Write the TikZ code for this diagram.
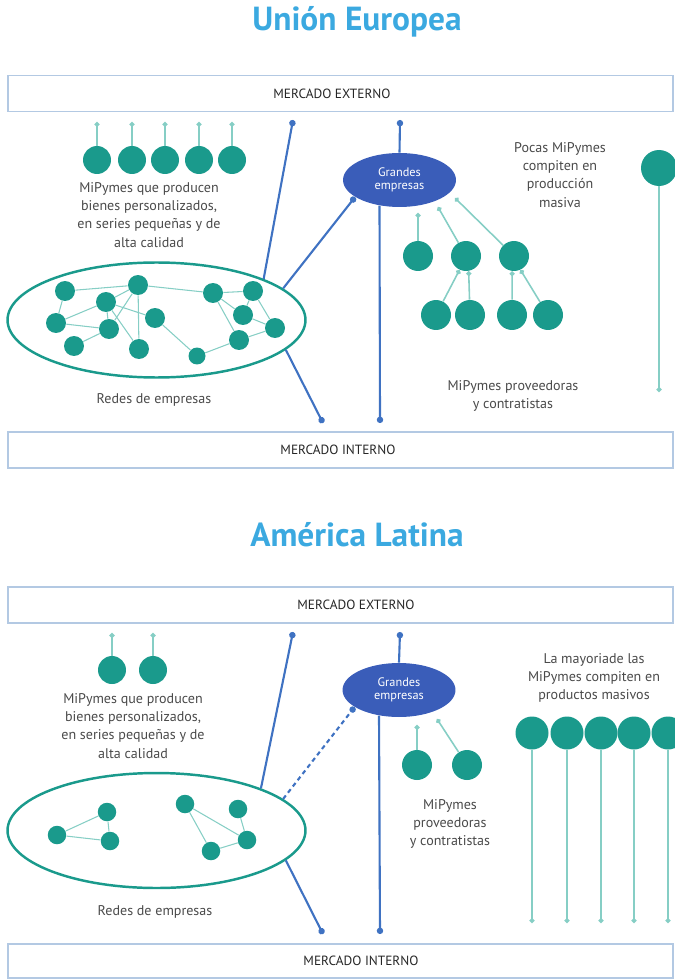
\documentclass[tikz,border=0pt]{standalone}
\usepackage{fontspec}
\setmainfont{PT Sans}
\usetikzlibrary{positioning,shapes.geometric,arrows.meta}

\definecolor{headblue}{HTML}{3BA9E0}
\definecolor{pymeteal}{HTML}{1A9A8C}
\definecolor{feedteal}{HTML}{86CEC5}
\definecolor{linkblue}{HTML}{3F72C2}
\definecolor{bigblue}{HTML}{3A5DB9}
\definecolor{boxblue}{HTML}{B3C9E3}
\definecolor{textgray}{HTML}{4A4A4A}

\begin{document}
\begin{tikzpicture}
% Style
[
    x=.02cm, y=-.02cm, font=\fontsize{8}{10.3}\selectfont, text=textgray,
    headline/.style={font=\fontsize{19}{22}\bfseries, text=headblue},
    mercado/.style={draw=boxblue, line width=1.1pt, shape=rectangle,
        minimum width=13.3cm, minimum height=#1, inner sep=0pt},
    mercado/.default=.72cm,
    boxlabel/.style={font=\fontsize{7.6}{8}\selectfont, text=black!85},
    note/.style={align=center},
    pyme/.style={circle, fill=pymeteal, inner sep=0pt, minimum size=#1},
    pyme/.default=.56cm,
    red/.style={circle, fill=pymeteal, inner sep=0pt, minimum size=#1},
    red/.default=.4cm,
    redes/.style={draw=pymeteal, line width=1.4pt, shape=ellipse,
        minimum width=5.96cm, minimum height=2.3cm, inner sep=0pt},
    grandes/.style={fill=bigblue, shape=ellipse, align=center, text=white,
        minimum width=2.26cm, minimum height=1.08cm, inner sep=0pt,
        font=\fontsize{7}{7.6}\selectfont},
    link/.style={draw=linkblue, line width=1.2pt, -{Circle[length=3.6pt]}},
    feed/.style={draw=feedteal, line width=.9pt, -{Circle[length=2.8pt]}},
    tie/.style={draw=feedteal, line width=.6pt}
]
\useasboundingbox (0,0) rectangle (674,979);

%=================================== Union Europea ===================================
{
    \node[headline] (title-eu) at (357,22) {Unión Europea};
    \node[mercado, label={[boxlabel, xshift=-.17cm]center:MERCADO EXTERNO}] (ext-eu) at (340.5,93.5) {};
    \node[mercado, label={[boxlabel, xshift=-.05cm]center:MERCADO INTERNO}] (int-eu) at (340.5,450) {};

    % custom producers
    \foreach \x[count=\i] in {97,132,165,199,232} {
        \node[pyme] (custom-eu-\i) at (\x,160) {};
        \coordinate (custom-eu-\i-out) at (\x,122);
        \draw[feed] (custom-eu-\i) -- (custom-eu-\i-out);
    }
    \node[note] (txt-custom-eu) at (149,215) {MiPymes que producen\\bienes personalizados,\\en series pequeñas y de\\alta calidad};

    % network
    \node[redes] (redes-eu) at (156.5,320) {};
    \foreach \n/\x/\y in {1/65/291, 2/106/302, 3/138/285, 4/56/323, 5/109/329, 6/155/318, 7/74/346,
        8/139/349, 10/213/293, 11/253/291, 12/243/315, 13/275/328, 14/239/340} {
        \node[red] (net-eu-\n) at (\x,\y) {};
    }
    \node[red=.34cm] (net-eu-9) at (197,356) {};
    \foreach \a/\b in {1/3, 1/4, 2/4, 4/5, 2/3, 2/5, 2/6, 3/5, 3/8, 2/8, 5/7, 6/9, 9/14, 3/10,
        10/11, 10/12, 10/14, 11/12, 11/13, 12/13, 13/14} {
        \draw[tie] (net-eu-\a) -- (net-eu-\b);
    }
    \node[note] (txt-redes-eu) at (154,400) {Redes de empresas};

    % large firms
    \node[grandes] (big-eu) at (399.5,180) {Grandes\\empresas};
    \coordinate (ext-eu-1) at (293,120);
    \coordinate (ext-eu-2) at (400,120);
    \coordinate (int-eu-1) at (323,423);
    \coordinate (int-eu-2) at (380,423);
    \draw[link] (redes-eu.21) -- (ext-eu-1);
    \draw[link] (redes-eu.14) -- (big-eu.201);
    \draw[link] (redes-eu.-13) -- (int-eu-1);
    \draw[link] (big-eu.north) -- (ext-eu-2);
    \draw[link] (big-eu.232) -- (int-eu-2);

    % suppliers
    \foreach \x/\ox/\oy[count=\i] in {418/418/213, 466/438/207, 514/455/198} {
        \node[pyme=.6cm] (tier1-eu-\i) at (\x,256) {};
        \coordinate (big-eu-\i) at (\ox,\oy);
        \draw[feed] (tier1-eu-\i) -- (big-eu-\i);
    }
    \foreach \x/\t/\ang[count=\i] in {436/2/245, 470/2/280, 512/3/263, 548/3/295} {
        \node[pyme=.6cm] (tier2-eu-\i) at (\x,315) {};
        \draw[feed] (tier2-eu-\i) -- (tier1-eu-\t.\ang);
    }
    \node[note] (txt-prov-eu) at (513,396) {MiPymes proveedoras\\y contratistas};

    % mass production
    \node[note] (txt-mass-eu) at (560,175) {Pocas MiPymes\\compiten en\\producción\\masiva};
    \node[pyme=.72cm] (mass-eu) at (659,168) {};
    \coordinate (mass-eu-out) at (659,392);
    \draw[feed] (mass-eu) -- (mass-eu-out);
}

%=================================== America Latina ===================================
{
    \node[headline] (title-al) at (357,535) {América Latina};
    \node[mercado, label={[boxlabel, xshift=.31cm]center:MERCADO EXTERNO}] (ext-al) at (340.5,605) {};
    \node[mercado=.68cm, label={[boxlabel, xshift=.41cm]center:MERCADO INTERNO}] (int-al) at (340.5,961) {};

    % custom producers
    \foreach \x[count=\i] in {112,153} {
        \node[pyme] (custom-al-\i) at (\x,670) {};
        \coordinate (custom-al-\i-out) at (\x,633);
        \draw[feed] (custom-al-\i) -- (custom-al-\i-out);
    }
    \node[note] (txt-custom-al) at (133,726) {MiPymes que producen\\bienes personalizados,\\en series pequeñas y de\\alta calidad};

    % network
    \node[redes] (redes-al) at (156.5,830.5) {};
    \foreach \n/\x/\y in {1/57/835, 2/107/812, 3/110/841, 4/185/804, 5/238/809, 6/247/840, 7/211/851} {
        \node[red=.37cm] (net-al-\n) at (\x,\y) {};
    }
    \foreach \a/\b in {1/2, 1/3, 2/3, 4/6, 4/7, 5/6, 6/7} {
        \draw[tie] (net-al-\a) -- (net-al-\b);
    }
    \node[note] (txt-redes-al) at (155,912) {Redes de empresas};

    % large firms
    \node[grandes] (big-al) at (399,690) {Grandes\\empresas};
    \coordinate (ext-al-1) at (293,632);
    \coordinate (ext-al-2) at (400,632);
    \coordinate (int-al-1) at (323,934);
    \coordinate (int-al-2) at (380,934);
    \draw[link] (redes-al.22) -- (ext-al-1);
    \draw[link, dash pattern=on 2.5pt off 2pt] (redes-al.14) -- (big-al.201);
    \draw[link] (redes-al.-13) -- (int-al-1);
    \draw[link] (big-al.north) -- (ext-al-2);
    \draw[link] (big-al.232) -- (int-al-2);

    % suppliers
    \foreach \x/\ox/\oy[count=\i] in {417/417/725, 467/437/719} {
        \node[pyme=.6cm] (tier1-al-\i) at (\x,765) {};
        \coordinate (big-al-\i) at (\ox,\oy);
        \draw[feed] (tier1-al-\i) -- (big-al-\i);
    }
    \node[note] (txt-prov-al) at (450,824) {MiPymes\\proveedoras\\y contratistas};

    % mass production
    \node[note] (txt-mass-al) at (594,678) {La mayoriade las\\MiPymes compiten en\\productos masivos};
    \foreach \x[count=\i] in {532,567,601,634,668} {
        \node[pyme=.66cm] (mass-al-\i) at (\x,733) {};
        \coordinate (mass-al-\i-out) at (\x,923);
        \draw[feed] (mass-al-\i) -- (mass-al-\i-out);
    }
}
%==================================== END ====================================

\end{tikzpicture}
\end{document}
